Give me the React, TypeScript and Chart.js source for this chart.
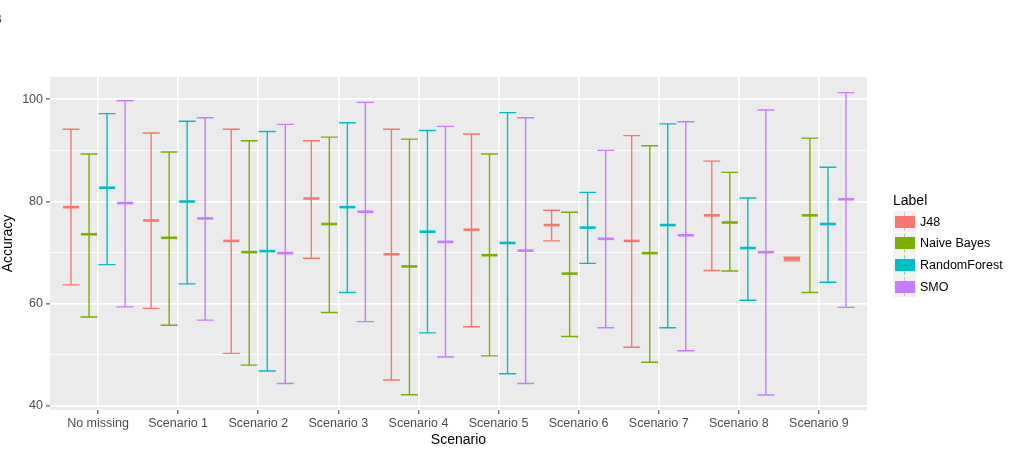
import React, { useEffect, useRef } from "react";
import { Chart, registerables } from "chart.js";

Chart.register(...registerables);

// ---------- data ----------
const categories = [
  "No missing",
  "Scenario 1",
  "Scenario 2",
  "Scenario 3",
  "Scenario 4",
  "Scenario 5",
  "Scenario 6",
  "Scenario 7",
  "Scenario 8",
  "Scenario 9",
];
const seriesLabels = ["J48", "Naive Bayes", "RandomForest", "SMO"];
const seriesColors = ["#F8766D", "#7CAE00", "#00BFC4", "#C77CFF"];

const j48Mean = [78.9, 76.3, 72.3, 80.6, 69.7, 74.5, 75.4, 72.3, 77.3, 68.8];
const j48Min = [63.7, 59.1, 50.3, 68.9, 45.1, 55.5, 72.3, 51.5, 66.5, 68.4];
const j48Max = [94.15, 93.4, 94.15, 91.9, 94.15, 93.2, 78.3, 92.9, 87.9, 69.1];

const nbMean = [73.6, 72.9, 70.1, 75.6, 67.3, 69.5, 65.9, 69.9, 75.9, 77.3];
const nbMin = [57.4, 55.8, 48.0, 58.3, 42.2, 49.8, 53.6, 48.55, 66.4, 62.2];
const nbMax = [89.3, 89.7, 91.9, 92.6, 92.2, 89.3, 77.9, 90.9, 85.7, 92.4];

const rfMean = [82.7, 80.0, 70.3, 78.9, 74.1, 71.9, 74.9, 75.4, 70.9, 75.6];
const rfMin = [67.65, 63.9, 46.85, 62.2, 54.3, 46.3, 67.9, 55.3, 60.7, 64.2];
const rfMax = [97.2, 95.7, 93.7, 95.4, 93.9, 97.4, 81.8, 95.2, 80.7, 86.7];

const smoMean = [79.7, 76.7, 69.9, 78.0, 72.1, 70.4, 72.7, 73.4, 70.1, 80.45];
const smoMin = [59.4, 56.8, 44.4, 56.5, 49.6, 44.4, 55.3, 50.8, 42.15, 59.3];
const smoMax = [99.7, 96.4, 95.1, 99.4, 94.7, 96.4, 90.0, 95.6, 97.9, 101.3];

const yTicks = [40, 50, 60, 70, 80, 90, 100];
const yMajorStep = 20;
const yMin = 39.22;
const yMax = 104.36;

const allMeans = [j48Mean, nbMean, rfMean, smoMean];
const allMins = [j48Min, nbMin, rfMin, smoMin];
const allMaxs = [j48Max, nbMax, rfMax, smoMax];

// ---------- styling ----------
const FONT = "'Liberation Sans', Arial, Helvetica, sans-serif";
const DODGE_WIDTH = 0.9;
const CAP_HALF = 0.106; // in category units
const nSeries = seriesLabels.length;

const panelBg = {
  id: "panelBg",
  beforeDraw(chart: any) {
    const { ctx, chartArea: a } = chart;
    ctx.save();
    ctx.fillStyle = "#EBEBEB";
    ctx.fillRect(a.left, a.top, a.right - a.left, a.bottom - a.top);
    ctx.restore();
  },
};

const errorBars = {
  id: "errorBars",
  beforeDatasetsDraw(chart: any) {
    const { ctx } = chart;
    const xs = chart.scales.x;
    const ys = chart.scales.y;
    ctx.save();
    chart.data.datasets.forEach((ds: any) => {
      ds.data.forEach((p: any, i: number) => {
        const px = xs.getPixelForValue(p.x);
        const l = xs.getPixelForValue(p.x - CAP_HALF);
        const r = xs.getPixelForValue(p.x + CAP_HALF);
        const top = ys.getPixelForValue(ds.errMax[i]);
        const bot = ys.getPixelForValue(ds.errMin[i]);
        ctx.strokeStyle = ds.borderColor;
        ctx.lineWidth = 1.4;
        ctx.beginPath();
        ctx.moveTo(px, top);
        ctx.lineTo(px, bot);
        ctx.moveTo(l, top);
        ctx.lineTo(r, top);
        ctx.moveTo(l, bot);
        ctx.lineTo(r, bot);
        ctx.stroke();
      });
    });
    ctx.restore();
  },
};

export default function App() {
  const ref = useRef<HTMLCanvasElement | null>(null);

  useEffect(() => {
    if (!ref.current) return;
    const datasets = seriesLabels.map((label, j) => {
      const off = ((j - (nSeries - 1) / 2) * DODGE_WIDTH) / nSeries;
      return {
        label,
        data: categories.map((_, i) => ({ x: i + off, y: allMeans[j][i] })),
        errMin: allMins[j],
        errMax: allMaxs[j],
        borderColor: seriesColors[j],
        backgroundColor: seriesColors[j],
        pointStyle: "line",
        pointRadius: 8,
        pointBorderWidth: 2.6,
        borderWidth: 2.6,
        showLine: false,
      } as any;
    });

    const chart = new Chart(ref.current, {
      type: "scatter",
      data: { datasets },
      plugins: [panelBg, errorBars],
      options: {
        animation: false,
        responsive: false,
        events: [],
        layout: { padding: { left: 0, top: 77, right: 153, bottom: 0 } },
        plugins: {
          legend: { display: false },
          tooltip: { enabled: false },
        },
        scales: {
          x: {
            type: "linear",
            min: -0.6,
            max: categories.length - 0.4,
            afterBuildTicks: (s: any) => {
              s.ticks = categories.map((_, i) => ({ value: i }));
            },
            afterFit: (s: any) => {
              s.height = 43;
            },
            ticks: {
              callback: (v: any) => categories[v as number] ?? "",
              font: { family: FONT, size: 12.5 },
              color: "#4D4D4D",
              padding: 2,
              autoSkip: false,
              maxRotation: 0,
            },
            grid: {
              color: "#FFFFFF",
              lineWidth: 1.6,
              tickLength: 4,
              tickColor: "#333333",
              tickWidth: 1,
            },
            border: { display: false },
            title: {
              display: true,
              text: "Scenario",
              font: { family: FONT, size: 14 },
              color: "#000000",
              padding: { top: 0, bottom: 4 },
            },
          },
          y: {
            type: "linear",
            min: yMin,
            max: yMax,
            afterBuildTicks: (s: any) => {
              s.ticks = yTicks.map((v) => ({ value: v }));
            },
            afterFit: (s: any) => {
              s.width = 50;
            },
            ticks: {
              callback: (v: any) => ((v as number) % yMajorStep === 0 ? String(v) : ""),
              font: { family: FONT, size: 12.5 },
              color: "#4D4D4D",
              padding: 3,
            },
            grid: {
              color: "#FFFFFF",
              lineWidth: (c: any) => (c.tick && c.tick.value % yMajorStep === 0 ? 1.8 : 0.9),
              tickLength: 4,
              tickColor: (c: any) =>
                c.tick && c.tick.value % yMajorStep === 0 ? "#333333" : "rgba(0,0,0,0)",
              tickWidth: 1,
            },
            border: { display: false },
            title: {
              display: true,
              text: "Accuracy",
              font: { family: FONT, size: 14 },
              color: "#000000",
              padding: { top: 0, bottom: 0 },
            },
          },
        },
      },
    });
    return () => chart.destroy();
  }, []);

  const legendItemY = [221.7, 243.3, 265, 286.7];

  return (
    <div
      style={{
        position: "fixed",
        left: 0,
        top: 0,
        width: 1020,
        height: 453,
        background: "#FFFFFF",
        fontFamily: FONT,
        overflow: "hidden",
      }}
    >
      <canvas ref={ref} width={1020} height={453} style={{ width: 1020, height: 453, display: "block" }} />
      <div
        style={{
          position: "absolute",
          left: -7,
          top: 12,
          fontSize: 12,
          fontWeight: "bold",
          color: "#333",
          lineHeight: "14px",
        }}
      >
        B
      </div>
      <div
        style={{
          position: "absolute",
          left: 893,
          top: 192,
          fontSize: 14,
          lineHeight: "17px",
          color: "#000",
        }}
      >
        Label
      </div>
      {seriesLabels.map((label, j) => (
        <React.Fragment key={label}>
          <div
            style={{
              position: "absolute",
              left: 893,
              top: legendItemY[j] - 10.8,
              width: 23,
              height: 21.6,
              background: "#F2F2F2",
            }}
          >
            <div
              style={{
                position: "absolute",
                left: 11,
                top: 1,
                width: 1,
                height: 19.6,
                background: seriesColors[j],
                opacity: 0.5,
              }}
            />
            <div
              style={{
                position: "absolute",
                left: 1.5,
                top: 4.8,
                width: 20,
                height: 12,
                background: seriesColors[j],
              }}
            />
          </div>
          <div
            style={{
              position: "absolute",
              left: 920,
              top: legendItemY[j] - 8,
              fontSize: 12.5,
              lineHeight: "16px",
              color: "#000",
              whiteSpace: "nowrap",
            }}
          >
            {label}
          </div>
        </React.Fragment>
      ))}
    </div>
  );
}
